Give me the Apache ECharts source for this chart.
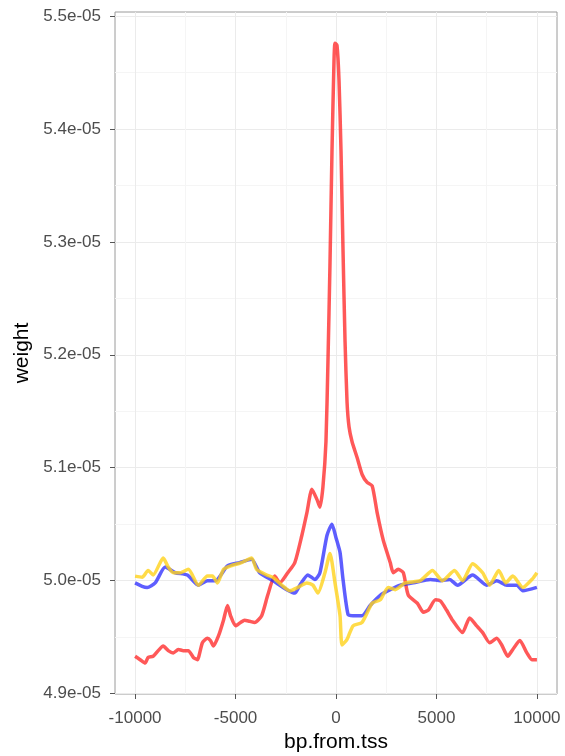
<!DOCTYPE html>
<html>
<head>
<meta charset="utf-8">
<script src="https://cdn.jsdelivr.net/npm/echarts@6/dist/echarts.min.js"></script>
<style>
html,body{margin:0;padding:0;background:#fff;}
#chart{width:565px;height:756px;}
</style>
</head>
<body>
<div id="chart"></div>
<script>
// ---- data ----
const xTicks = [-10000, -5000, 0, 5000, 10000];
const xMinorTicks = [-7500, -2500, 2500, 7500];
const yTicks = [4.9e-5, 5.0e-5, 5.1e-5, 5.2e-5, 5.3e-5, 5.4e-5, 5.5e-5];
const yMinorTicks = [4.95e-5, 5.05e-5, 5.15e-5, 5.25e-5, 5.35e-5, 5.45e-5];

const redBp = [-10000,-9750,-9500,-9350,-9100,-8850,-8600,-8350,-8100,-7850,-7600,-7350,-7100,-6900,-6650,-6400,-6250,-6100,-5850,-5600,-5400,-5250,-5000,-4750,-4550,-4300,-4050,-3700,-3400,-3050,-2800,-2400,-2050,-1700,-1450,-1200,-950,-800,-650,-500,-400,-300,-200,-100,-50,50,150,250,350,450,550,650,800,1050,1300,1550,1800,2050,2350,2700,2850,3100,3350,3600,4050,4350,4600,4950,5200,5500,5800,6300,6650,7000,7300,7650,8000,8250,8550,8800,9150,9500,9750,10000];
const redWeight = [4.933e-5,4.930e-5,4.927e-5,4.932e-5,4.933e-5,4.938e-5,4.942e-5,4.938e-5,4.936e-5,4.939e-5,4.938e-5,4.938e-5,4.932e-5,4.930e-5,4.945e-5,4.949e-5,4.947e-5,4.942e-5,4.951e-5,4.965e-5,4.978e-5,4.969e-5,4.960e-5,4.963e-5,4.965e-5,4.964e-5,4.963e-5,4.969e-5,4.987e-5,5.004e-5,4.998e-5,5.007e-5,5.016e-5,5.040e-5,5.060e-5,5.081e-5,5.072e-5,5.065e-5,5.083e-5,5.123e-5,5.194e-5,5.280e-5,5.380e-5,5.460e-5,5.476e-5,5.474e-5,5.443e-5,5.380e-5,5.292e-5,5.212e-5,5.158e-5,5.136e-5,5.123e-5,5.109e-5,5.094e-5,5.087e-5,5.084e-5,5.060e-5,5.036e-5,5.016e-5,5.007e-5,5.010e-5,5.007e-5,4.987e-5,4.980e-5,4.972e-5,4.974e-5,4.983e-5,4.982e-5,4.974e-5,4.965e-5,4.954e-5,4.967e-5,4.960e-5,4.954e-5,4.945e-5,4.949e-5,4.943e-5,4.933e-5,4.939e-5,4.947e-5,4.936e-5,4.930e-5,4.930e-5];

const blueBp = [-10000,-9650,-9400,-9000,-8500,-8000,-7400,-6850,-6400,-6000,-5400,-4800,-4200,-3800,-3150,-2450,-2050,-1800,-1400,-1050,-800,-450,-200,0,200,350,600,850,1300,1700,2200,2700,3200,3850,4700,5200,5650,6050,6800,7500,8000,8500,9000,9300,10000];
const blueWeight = [4.998e-5,4.995e-5,4.994e-5,4.998e-5,5.012e-5,5.007e-5,5.005e-5,4.996e-5,5.000e-5,5.000e-5,5.013e-5,5.016e-5,5.019e-5,5.007e-5,5.000e-5,4.992e-5,4.989e-5,4.996e-5,5.005e-5,5.001e-5,5.007e-5,5.040e-5,5.050e-5,5.038e-5,5.025e-5,5.001e-5,4.970e-5,4.969e-5,4.969e-5,4.978e-5,4.987e-5,4.992e-5,4.996e-5,4.998e-5,5.001e-5,5.000e-5,5.001e-5,4.996e-5,5.005e-5,4.996e-5,5.000e-5,4.996e-5,4.996e-5,4.991e-5,4.994e-5];

const yellowBp = [-10000,-9650,-9350,-9100,-8600,-8350,-8100,-7750,-7350,-6850,-6400,-6150,-5900,-5600,-5250,-4700,-4200,-3950,-3450,-3150,-2700,-2300,-1900,-1450,-1150,-900,-550,-300,-50,200,300,550,850,1300,1800,2200,2600,2950,3450,4200,4800,5300,5900,6300,6800,7300,7650,8100,8450,8800,9300,9800,10000];
const yellowWeight = [5.004e-5,5.003e-5,5.009e-5,5.005e-5,5.020e-5,5.012e-5,5.007e-5,5.007e-5,5.010e-5,4.996e-5,5.004e-5,5.004e-5,4.998e-5,5.010e-5,5.013e-5,5.016e-5,5.020e-5,5.010e-5,5.005e-5,5.003e-5,4.996e-5,4.991e-5,4.994e-5,4.998e-5,4.996e-5,4.989e-5,5.007e-5,5.024e-5,4.998e-5,4.969e-5,4.943e-5,4.948e-5,4.960e-5,4.963e-5,4.980e-5,4.983e-5,4.994e-5,4.992e-5,4.998e-5,5.000e-5,5.009e-5,5.000e-5,5.009e-5,5.000e-5,5.015e-5,5.007e-5,4.996e-5,5.009e-5,4.998e-5,5.004e-5,4.994e-5,5.002e-5,5.007e-5];

const xLimits = [-11000, 11000];
const yLimits = [4.8996e-5, 5.5036e-5];

// ---- chart ----
function pairs(xs, ys) { return xs.map((x, i) => [x, ys[i]]); }
function fmtE(v) {
  return Number(v).toExponential(1).replace(/e([+-])(\d)$/, 'e$10$2');
}
function fmtX(v) { return String(Math.round(v)); }
const FONT = 'Liberation Sans, Arial, Helvetica, sans-serif';
const chart = echarts.init(document.getElementById('chart'), null, {renderer: 'canvas'});

chart.setOption({
  animation: false,
  backgroundColor: '#ffffff',
  grid: {
    left: 115, right: 8, top: 12, bottom: 62,
    show: true, borderColor: '#9a9a9a', borderWidth: 1, backgroundColor: 'transparent',
    containLabel: false, outerBoundsMode: 'none'
  },
  xAxis: [
    {
      type: 'value', min: xLimits[0], max: xLimits[1], position: 'bottom',
      axisLine: {show: false, onZero: false},
      axisTick: {show: true, customValues: xTicks, length: 5, lineStyle: {color: '#555', width: 1}},
      axisLabel: {show: true, customValues: xTicks, margin: 16, color: '#4d4d4d', fontSize: 17, fontFamily: FONT, formatter: fmtX},
      splitLine: {show: true, lineStyle: {color: '#ebebeb', width: 1}},
      name: 'bp.from.tss', nameLocation: 'middle', nameGap: 36,
      nameTextStyle: {color: '#000', fontSize: 21, fontFamily: FONT}
    },
    {
      type: 'value', min: xLimits[0], max: xLimits[1], position: 'bottom',
      axisLine: {show: false, onZero: false},
      axisTick: {show: false, customValues: xMinorTicks},
      axisLabel: {show: false},
      splitLine: {show: true, lineStyle: {color: '#f5f5f5', width: 1}}
    }
  ],
  yAxis: [
    {
      type: 'value', min: yLimits[0], max: yLimits[1], position: 'left',
      axisLine: {show: false, onZero: false},
      axisTick: {show: true, customValues: yTicks, length: 5, lineStyle: {color: '#555', width: 1}},
      axisLabel: {show: true, customValues: yTicks, margin: 14, color: '#4d4d4d', fontSize: 17, fontFamily: FONT, formatter: fmtE},
      splitLine: {show: true, lineStyle: {color: '#ebebeb', width: 1}},
      name: 'weight', nameLocation: 'middle', nameGap: 82, nameRotate: 90,
      nameTextStyle: {color: '#000', fontSize: 21, fontFamily: FONT}
    },
    {
      type: 'value', min: yLimits[0], max: yLimits[1], position: 'left',
      axisLine: {show: false, onZero: false},
      axisTick: {show: false, customValues: yMinorTicks},
      axisLabel: {show: false},
      splitLine: {show: true, lineStyle: {color: '#f5f5f5', width: 1}}
    }
  ],
  series: [
    {
      name: 'red', type: 'line', data: pairs(redBp, redWeight),
      showSymbol: false, smooth: 0.2, z: 3,
      lineStyle: {color: '#ff2020', width: 3.5, opacity: 0.75}
    },
    {
      name: 'blue', type: 'line', data: pairs(blueBp, blueWeight),
      showSymbol: false, smooth: 0.2, z: 4,
      lineStyle: {color: '#2020ff', width: 3.5, opacity: 0.72}
    },
    {
      name: 'yellow', type: 'line', data: pairs(yellowBp, yellowWeight),
      showSymbol: false, smooth: 0.2, z: 5,
      lineStyle: {color: '#ffd21a', width: 3.5, opacity: 0.8}
    }
  ]
});
</script>
</body>
</html>
